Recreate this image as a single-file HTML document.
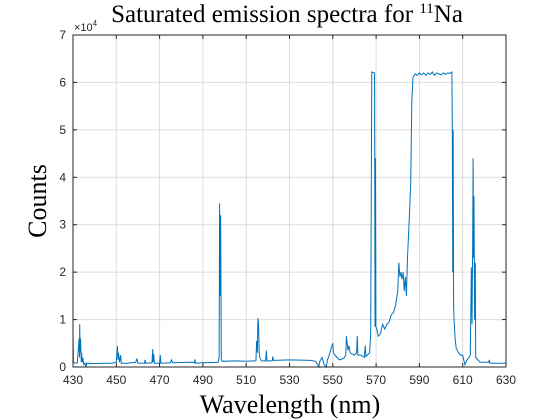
<!DOCTYPE html>
<html><head><meta charset="utf-8"><style>
body{margin:0;background:#fff}
svg{display:block;font-family:"Liberation Sans",sans-serif}
</style></head><body>
<svg id="chart" width="560" height="420" xmlns="http://www.w3.org/2000/svg">
<rect width="560" height="420" fill="#fff"/>
<g id="grid"></g>
<g id="series"></g>
<g id="axes"></g>
<text x="287" y="22" text-anchor="middle" font-family="Liberation Serif,serif" font-size="25" fill="#000">Saturated emission spectra for <tspan font-size="15" dy="-9">11</tspan><tspan dy="9">Na</tspan></text>
<text x="290" y="413" text-anchor="middle" font-family="Liberation Serif,serif" font-size="26" fill="#000">Wavelength (nm)</text>
<text transform="translate(46,201) rotate(-90)" text-anchor="middle" font-family="Liberation Serif,serif" font-size="26" fill="#000">Counts</text>
<text x="74" y="31" font-size="11" fill="#262626">×10<tspan font-size="8" dy="-5">4</tspan></text>
</svg>
<script>
const xTicks=[430,450,470,490,510,530,550,570,590,610,630];
const yTicks=[0,1,2,3,4,5,6,7];
const wavelengths=[
430,430.2,430.5,431,432,432.8,433,433.1,433.3,433.5,
433.8,434,434.2,434.5,435,435.5,436,436.3,440,445,
448,450,450.5,450.8,451,451.5,452,452.3,455,459,
459.5,460,463,463.3,463.6,466.5,466.8,467,467.3,467.6,
470,470.3,470.6,475,475.5,476,485,486,486.3,486.6,
490,497,497.5,497.7,497.9,498.2,498.5,499,505,510,
514.5,514.8,515.2,515.4,515.7,516,516.3,517,519,519.3,
519.6,522,522.3,522.6,530,540,542,543,543.5,544,
545,546,547,547.5,548,549,550,550.3,551,553,
555,556,556.3,557,557.5,558,560,561,561.3,561.6,
563,564.5,565,565.3,567,567.5,568,569.3,569.5,569.7,
569.9,570.3,571,572,573,574,575,576,577,578,
579,580,580.5,581,581.5,582,582.5,583,583.5,584,
584.5,585,585.5,586,586.5,587,588,589,590,591,
592,593,594,595,596,597,598,599,600,601,
602,603,604,605,605.2,605.4,605.6,605.8,606,606.5,
607,608,609,610,611,612,613,613.5,614,614.3,
614.6,614.8,615,615.2,615.5,615.8,616,617,618,620,
622,622.3,622.6,625,630];
const counts=[
0.7,0.1,0.09,0.08,0.09,0.6,0.2,0.9,0.3,0.6,
0.1,0.3,0.1,0.2,0.05,0.08,0,0.08,0.07,0.08,
0.08,0.1,0.44,0.15,0.3,0.1,0.25,0.08,0.08,0.1,
0.18,0.08,0.08,0.15,0.08,0.09,0.38,0.1,0.27,0.08,
0.08,0.25,0.08,0.09,0.15,0.09,0.1,0.09,0.16,0.08,
0.09,0.1,0.2,3.45,1.5,3.2,0.15,0.12,0.13,0.12,
0.13,0.55,0.3,1.03,0.9,0.3,0.2,0.13,0.13,0.35,
0.13,0.13,0.22,0.14,0.15,0.14,0.12,0.05,0,0.12,
0.2,0.05,0,0.15,0.2,0.35,0.5,0.3,0.25,0.15,
0.18,0.25,0.65,0.35,0.45,0.3,0.25,0.3,0.65,0.25,
0.25,0.2,0.45,0.22,0.3,0.7,6.22,6.2,0.85,4.4,
0.85,0.8,0.65,0.7,0.9,0.8,0.9,0.95,1.1,1.15,
1.3,1.6,2.2,1.9,2.0,1.85,2.0,1.6,1.9,1.5,
2.3,2.8,3.3,3.9,5.6,6.1,6.18,6.15,6.2,6.16,
6.2,6.15,6.2,6.17,6.22,6.15,6.2,6.18,6.16,6.2,
6.17,6.2,6.19,6.22,5.0,2.0,5.0,1.3,1.0,0.6,
0.4,0.3,0.25,0.25,0.05,0.15,0.2,0.25,2.1,0.9,
2.6,4.4,2.3,3.6,1.0,2.2,0.2,0.15,0.1,0.1,
0.1,0.15,0.08,0.08,0.08];
const L=73,R=506,T=35,B=367;
const xMin=430,xMax=630,yMax=7;
function xs(v){return L+(v-xMin)/(xMax-xMin)*(R-L);}
function ys(v){return B-v/yMax*(B-T);}
const NS="http://www.w3.org/2000/svg";
const grid=document.getElementById('grid'),axes=document.getElementById('axes'),series=document.getElementById('series');
function mk(tag,attrs,parent){const e=document.createElementNS(NS,tag);for(const k in attrs)e.setAttribute(k,attrs[k]);parent.appendChild(e);return e;}
xTicks.forEach(t=>{
 const x=xs(t);
 const g=mk('line',{x1:x,x2:x,y1:T,y2:B,stroke:'#dcdcdc','stroke-width':1},grid);
 
 
 const tk=mk('line',{x1:x,x2:x,y1:B,y2:B-4,stroke:'#262626'},axes);
 
 
 const tk2=mk('line',{x1:x,x2:x,y1:T,y2:T+4,stroke:'#262626'},axes);
 
 
 const lb=mk('text',{x:x,y:B+17,'text-anchor':'middle','font-size':12,fill:'#262626'},axes);
 lb.textContent=t;
 
 
});
yTicks.forEach(t=>{
 const y=ys(t);
 const g=mk('line',{x1:L,x2:R,y1:y,y2:y,stroke:'#dcdcdc','stroke-width':1},grid);
 
 
 const tk=mk('line',{x1:L,x2:L+4,y1:y,y2:y,stroke:'#262626'},axes);
 
 
 const tk2=mk('line',{x1:R,x2:R-4,y1:y,y2:y,stroke:'#262626'},axes);
 
 
 const lb=mk('text',{x:L-7,y:y+4,'text-anchor':'end','font-size':12,fill:'#262626'},axes);
 lb.textContent=t;
 
 
});
const box=mk('rect',{x:L,y:T,width:R-L,height:B-T,fill:'none',stroke:'#262626','stroke-width':1},axes);


let d='';
const n=Math.min(wavelengths.length,counts.length);
for(let i=0;i<n;i++){d+=(i?'L':'M')+xs(wavelengths[i]).toFixed(2)+','+ys(counts[i]).toFixed(2);}
const p=mk('path',{d:d,fill:'none',stroke:'#0072bd','stroke-width':1},series);


</script>
</body></html>
